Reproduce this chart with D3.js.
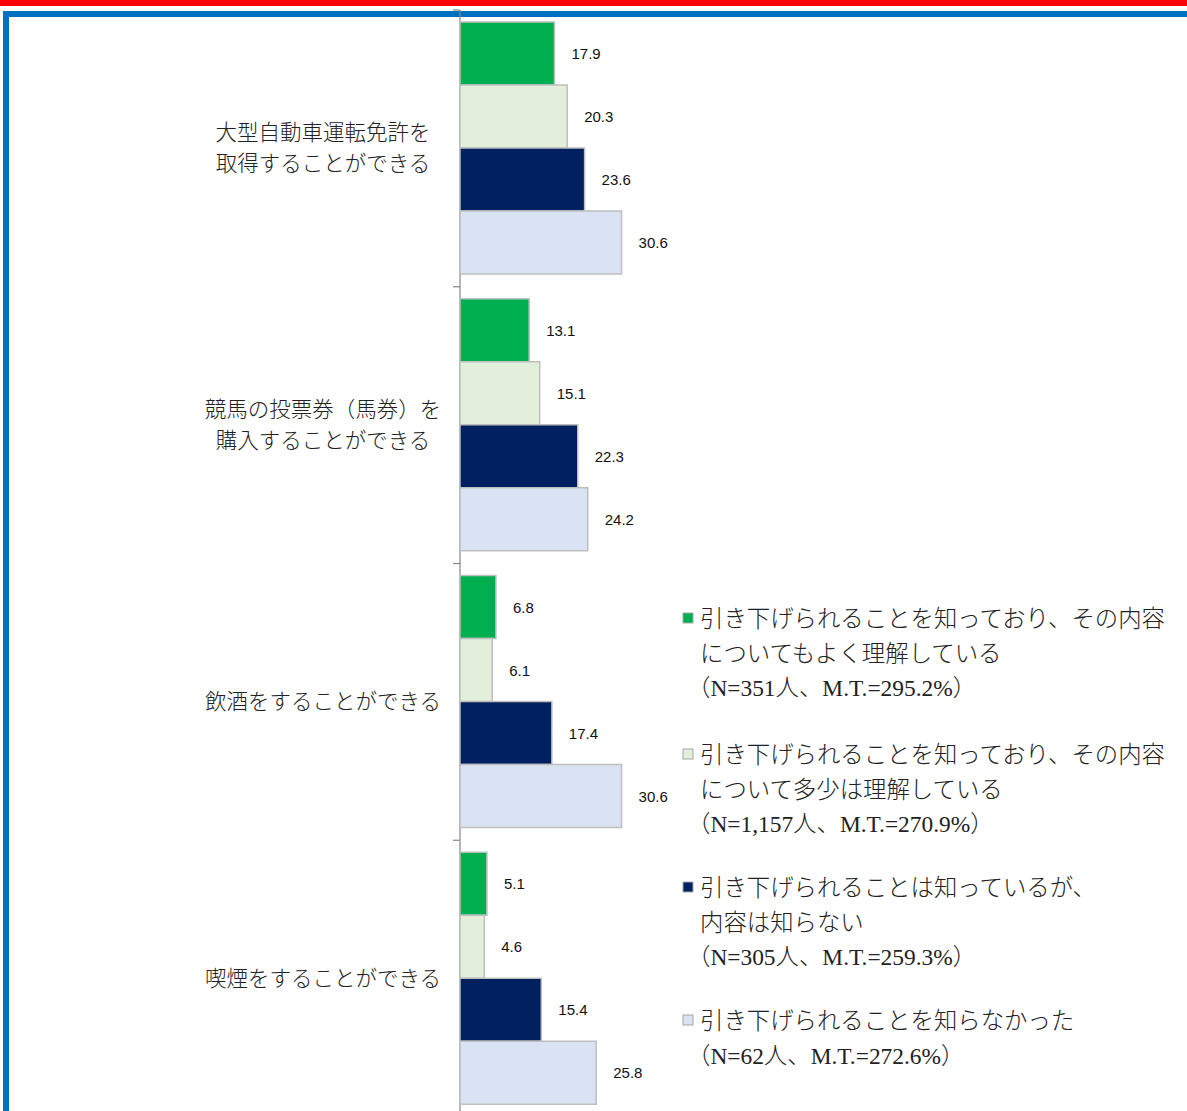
<!DOCTYPE html>
<html>
<head>
<meta charset="utf-8">
<script src="https://cdn.jsdelivr.net/npm/d3@7"></script>
<style>
  body { margin: 0; background: #fff; }
  svg { display: block; }
</style>
</head>
<body>
<div id="chart"></div>
<script>
// categories (top to bottom), each split into display lines
const categories = ["大型自動車運転免許を取得することができる", "競馬の投票券(馬券)を購入することができる", "飲酒をすることができる", "喫煙をすることができる"];
const categoryLines = [
  ["大型自動車運転免許を", "取得することができる"],
  ["競馬の投票券（馬券）を", "購入することができる"],
  ["飲酒をすることができる"],
  ["喫煙をすることができる"]
];
const seriesNames = ["know_well", "know_some", "know_only", "not_know"];
const seriesColors = ["#00b050", "#e2efda", "#002060", "#dae3f3"];
// values per series, in category order
const knowWell = [17.9, 13.1, 6.8, 5.1];
const knowSome = [20.3, 15.1, 6.1, 4.6];
const knowOnly = [23.6, 22.3, 17.4, 15.4];
const notKnow = [30.6, 24.2, 30.6, 25.8];
const legendLines = [
  ["引き下げられることを知っており、その内容", "についてもよく理解している", "（N=351人、M.T.=295.2%）"],
  ["引き下げられることを知っており、その内容", "について多少は理解している", "（N=1,157人、M.T.=270.9%）"],
  ["引き下げられることは知っているが、", "内容は知らない", "（N=305人、M.T.=259.3%）"],
  ["引き下げられることを知らなかった", "（N=62人、M.T.=272.6%）"]
];

const allSeries = [knowWell, knowSome, knowOnly, notKnow];

const W = 1187, H = 1111;
const svg = d3.select("#chart").append("svg").attr("width", W).attr("height", H);

// frame lines
svg.append("rect").attr("x", 0).attr("y", 0).attr("width", W).attr("height", 6).attr("fill", "#ff0000");
svg.append("rect").attr("x", 3).attr("y", 11).attr("width", W - 3).attr("height", 6).attr("fill", "#0070c0");
svg.append("rect").attr("x", 3).attr("y", 11).attr("width", 6).attr("height", H - 11).attr("fill", "#0070c0");

const x0 = 460;
const x = d3.scaleLinear().domain([0, 40]).range([x0, x0 + 5.28 * 40]);
const y = d3.scaleBand().domain(categories).range([10, 1117]);
const yInner = d3.scaleBand().domain(seriesNames).range([12, 264]);

// axis
const yAxis = d3.axisLeft(y).tickSize(0).tickFormat("");
const axisG = svg.append("g").attr("transform", `translate(${x0},0)`).call(yAxis);
axisG.select(".domain").attr("stroke", "#868686").attr("stroke-width", 1.2).attr("d", `M0,10V${H}`);
// boundary ticks between categories
const bounds = categories.map(c => y(c)).concat([y(categories[3]) + y.bandwidth()]);
svg.append("g").selectAll("line").data(bounds).join("line")
  .attr("x1", x0 - 7).attr("x2", x0)
  .attr("y1", d => d).attr("y2", d => d)
  .attr("stroke", "#868686").attr("stroke-width", 1.2);

// category labels
categories.forEach((c, i) => {
  const cy = y(c) + y.bandwidth() / 2;
  const lines = categoryLines[i];
  const t = svg.append("text")
    .attr("x", 323).attr("text-anchor", "middle")
    .attr("font-family", "'Noto Sans CJK JP', sans-serif")
    .attr("font-weight", 300)
    .attr("font-size", 21.5).attr("fill", "#222");
  lines.forEach((ln, j) => {
    t.append("tspan").attr("x", 323)
      .attr("y", cy + (j - (lines.length - 1) / 2) * 31 + 7.5)
      .text(ln);
  });
});

// bars
allSeries.forEach((vals, s) => {
  const g = svg.append("g");
  g.selectAll("rect").data(vals).join("rect")
    .attr("x", x(0))
    .attr("y", (d, i) => y(categories[i]) + yInner(seriesNames[s]))
    .attr("width", d => x(d) - x(0))
    .attr("height", yInner.bandwidth())
    .attr("fill", seriesColors[s])
    .attr("stroke", "#bfbfbf").attr("stroke-width", 1.5);
  g.selectAll("text").data(vals).join("text")
    .attr("x", d => x(d) + 17)
    .attr("y", (d, i) => y(categories[i]) + yInner(seriesNames[s]) + yInner.bandwidth() / 2 + 5.5)
    .attr("font-family", "'Liberation Sans', Arial, sans-serif")
    .attr("font-size", 15).attr("fill", "#111")
    .text(d => d.toFixed(1));
});

// legend
const legendTop = [619, 755, 888, 1021];
legendLines.forEach((lines, s) => {
  const ly = legendTop[s];
  svg.append("rect").attr("x", 683).attr("y", ly - 6).attr("width", 10).attr("height", 10)
    .attr("fill", seriesColors[s]).attr("stroke", "#a6a6a6").attr("stroke-width", 1);
  const t = svg.append("text")
    .attr("font-family", "'Liberation Serif', 'Noto Sans CJK JP', serif")
    .attr("font-weight", 300)
    .attr("font-size", 23.4).attr("fill", "#222");
  lines.forEach((ln, j) => {
    t.append("tspan").attr("x", ln.startsWith("（") ? 687 : 700).attr("y", ly + 8 + j * 34.5).text(ln);
  });
});
</script>
</body>
</html>
